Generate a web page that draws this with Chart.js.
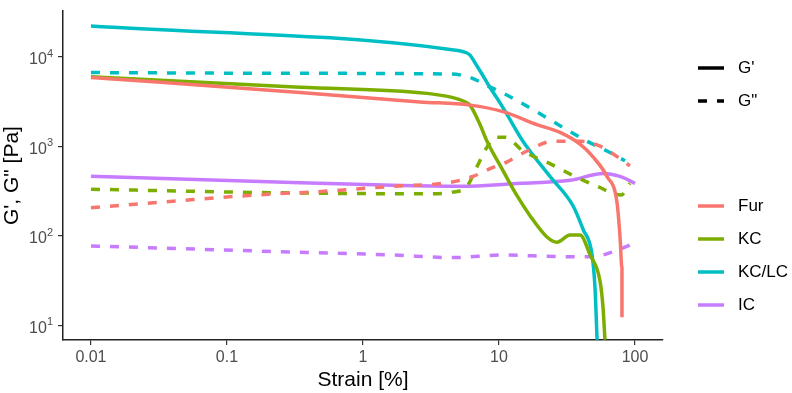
<!DOCTYPE html>
<html>
<head>
<meta charset="utf-8">
<script src="https://cdn.jsdelivr.net/npm/chart.js@4.4.1/dist/chart.umd.min.js"></script>
<style>
  body { margin: 0; background: #fff; }
  #wrap { width: 792px; height: 393px; }
</style>
</head>
<body>
<div id="wrap"><canvas id="myChart" width="792" height="393"></canvas></div>
<script>
// strain [%] vs modulus [Pa]
const furGp = [[0.01, 5890], [0.344, 4010], [2.62, 3140], [6.12, 2890], [10.7, 2440], [19.0, 1750], [28.1, 1430], [39.4, 1056], [49.1, 762], [62.2, 461], [73.8, 233], [77.6, 97], [80.2, 43], [80.2, 12.3]];
const furGpp = [[0.01, 206], [0.0562, 254], [0.175, 288], [0.543, 316], [1.66, 358], [4.37, 396], [6.44, 461], [8.59, 563], [11.5, 672], [16.1, 887], [24.9, 1140], [39.4, 1140], [55.3, 1004], [91.8, 608]];
const kcGp = [[0.01, 5990], [0.344, 4580], [2.96, 3910], [4.59, 3500], [5.62, 3150], [6.12, 2890], [7.25, 1750], [8.16, 1140], [10.7, 536], [13.6, 279], [16.9, 168], [22.5, 97], [26.7, 85], [33.3, 102], [39.4, 102], [46.7, 61.5], [55.3, 31.2], [58.2, 15.8], [60.1, 6.9]];
const kcGpp = [[0.01, 332], [0.175, 305], [2.96, 295], [4.59, 308], [5.82, 358], [6.89, 593], [8.16, 980], [9.35, 1262], [11.1, 1262], [15.0, 887], [23.7, 640], [35.0, 472], [52.6, 358], [78.9, 286], [91.8, 386]];
const kclcGp = [[0.01, 22200], [4.37, 12100], [5.82, 11060], [6.12, 10440], [6.89, 7910], [7.63, 6150], [8.59, 4550], [10.2, 3040], [11.5, 2250], [15.0, 1140], [23.7, 461], [35.0, 217], [41.5, 118], [48.3, 61.5], [50.8, 26.2], [52.6, 6.9]];
const kclcGpp = [[0.01, 6680], [0.344, 6550], [4.37, 6430], [6.12, 5890], [8.16, 4790], [11.5, 3720], [19.0, 2425], [29.6, 1622], [44.4, 1140], [62.2, 887], [84.4, 689]];
const icGp = [[0.01, 464], [0.175, 406], [1.66, 367], [5.16, 358], [14.3, 386], [33.3, 417], [58.2, 497], [77.6, 461], [100, 386]];
const icGpp = [[0.01, 77.1], [0.175, 67.5], [1.66, 61.0], [4.59, 57.1], [10.7, 61], [29.6, 58.5], [48.8, 58.5], [68.9, 66.4], [91.8, 79.1]];

const groups = ['Fur', 'KC', 'KC/LC', 'IC'];
const moduli = ["G'", 'G"'];
const xTicks = [0.01, 0.1, 1, 10, 100];
const xTickLabels = ['0.01', '0.1', '1', '10', '100'];
const yTicks = [10, 100, 1000, 10000];

const colors = ['#F8766D', '#7CAE00', '#00BFC4', '#C77CFF'];
const dash = [9, 10];
const fontFamily = '"Liberation Sans", Arial, sans-serif';

const storage = [[furGp, furGpp], [kcGp, kcGpp], [kclcGp, kclcGpp], [icGp, icGpp]];
const datasets = [];
storage.forEach((pair, i) => {
    pair.forEach((pts, j) => {
        datasets.push({
            label: groups[i] + ' ' + moduli[j],
            data: pts.map(p => ({x: p[0], y: p[1]})),
            borderColor: colors[i],
            borderWidth: 3.5,
            borderDash: j === 1 ? dash : [],
            pointRadius: 0,
            fill: false,
            cubicInterpolationMode: 'monotone'
        });
    });
});

// y labels as 10 with a raised exponent
const powerLabels = {
    id: 'powerLabels',
    afterDraw(chart) {
        const ctx = chart.ctx;
        const ys = chart.scales.y;
        const right = ys.right - 5 - 5;
        ctx.save();
        ctx.fillStyle = '#4D4D4D';
        ctx.textBaseline = 'middle';
        yTicks.forEach(v => {
            const py = ys.getPixelForValue(v);
            const e = String(Math.round(Math.log10(v)));
            ctx.font = '11px ' + fontFamily;
            const ew = ctx.measureText(e).width;
            ctx.textAlign = 'left';
            ctx.fillText(e, right - ew, py - 3);
            ctx.font = '16px ' + fontFamily;
            ctx.textAlign = 'right';
            ctx.fillText('10', right - ew, py + 3);
        });
        ctx.restore();
    }
};

// ggplot-style legend drawn to the right of the panel
const sideLegend = {
    id: 'sideLegend',
    afterDraw(chart) {
        const ctx = chart.ctx;
        ctx.save();
        ctx.font = '17px ' + fontFamily;
        ctx.textBaseline = 'middle';
        ctx.lineWidth = 3.5;
        const x0 = 698, x1 = 724, tx = 738;
        const modY = [68, 101];
        moduli.forEach((m, j) => {
            ctx.strokeStyle = '#000';
            ctx.setLineDash(j === 1 ? dash : []);
            ctx.beginPath(); ctx.moveTo(x0, modY[j]); ctx.lineTo(x1, modY[j]); ctx.stroke();
            ctx.fillStyle = '#000';
            ctx.fillText(m, tx, modY[j]);
        });
        ctx.setLineDash([]);
        const grpY = [206, 239, 272, 305];
        groups.forEach((g, i) => {
            ctx.strokeStyle = colors[i];
            ctx.beginPath(); ctx.moveTo(x0, grpY[i]); ctx.lineTo(x1, grpY[i]); ctx.stroke();
            ctx.fillStyle = '#000';
            ctx.fillText(g, tx, grpY[i]);
        });
        ctx.restore();
    }
};

const ctx = document.getElementById('myChart').getContext('2d');
const myChart = new Chart(ctx, {
    type: 'line',
    data: { datasets: datasets },
    options: {
        responsive: false,
        animation: false,
        layout: { padding: { top: 4, right: 129, left: 0, bottom: 0 } },
        scales: {
            x: {
                type: 'logarithmic',
                min: 0.00623,
                max: 160.6,
                afterBuildTicks: s => { s.ticks = xTicks.map(v => ({value: v})); },
                afterFit: s => { s.height = 53; },
                ticks: {
                    autoSkip: false,
                    maxRotation: 0,
                    padding: 3,
                    color: '#4D4D4D',
                    font: { family: fontFamily, size: 16 },
                    callback: v => xTickLabels[xTicks.indexOf(v)]
                },
                grid: { display: true, drawOnChartArea: false, drawTicks: true, tickLength: 5, color: '#333', lineWidth: 1.2 },
                border: { display: true, color: '#222', width: 1.5 },
                title: {
                    display: true,
                    text: 'Strain [%]',
                    color: '#000',
                    padding: { top: 0, bottom: 0 },
                    font: { family: fontFamily, size: 21 }
                }
            },
            y: {
                type: 'logarithmic',
                min: 6.85,
                max: 32400,
                afterBuildTicks: s => { s.ticks = yTicks.map(v => ({value: v})); },
                afterFit: s => { s.width = 63; },
                ticks: {
                    autoSkip: false,
                    padding: 4,
                    callback: () => ''
                },
                grid: { display: true, drawOnChartArea: false, drawTicks: true, tickLength: 5, color: '#333', lineWidth: 1.2 },
                border: { display: true, color: '#222', width: 1.5 },
                title: {
                    display: true,
                    text: 'G\', G" [Pa]',
                    color: '#000',
                    padding: { top: 0, bottom: 0 },
                    font: { family: fontFamily, size: 21 }
                }
            }
        },
        plugins: {
            legend: { display: false },
            tooltip: { enabled: false },
            title: { display: false }
        }
    },
    plugins: [powerLabels, sideLegend]
});
</script>
</body>
</html>
